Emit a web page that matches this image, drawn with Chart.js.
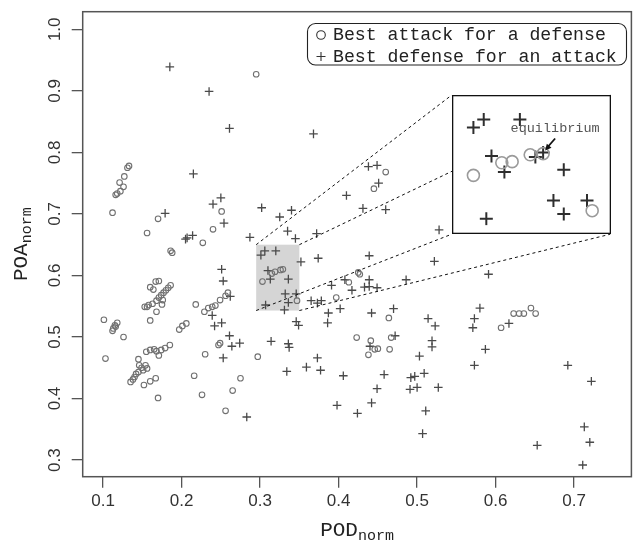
<!DOCTYPE html>
<html>
<head>
<meta charset="utf-8">
<script src="https://cdn.jsdelivr.net/npm/chart.js@4"></script>
<style>
html,body{margin:0;padding:0;background:#fff}
#wrap{position:relative;width:637px;height:545px}
#main{position:absolute;left:0;top:0}
#insetBox{position:absolute}
</style>
</head>
<body>
<div id="wrap">
  <canvas id="main" width="637" height="545"></canvas>
  <div id="insetBox"><canvas id="inset"></canvas></div>
</div>
<script>
// tick labels
const X_TICKS = [0.1, 0.2, 0.3, 0.4, 0.5, 0.6, 0.7];
const Y_TICKS = [0.3, 0.4, 0.5, 0.6, 0.7, 0.8, 0.9, 1.0];

// best attack for a defense (circles)
const attackX = [0.295,0.133,0.131,0.127,0.121,0.126,0.122,0.118,0.116,0.112,0.170,0.251,0.156,0.240,0.227,0.186,0.188,
  0.167,0.171,0.160,0.164,0.186,0.183,0.180,0.177,0.174,0.171,0.168,0.163,0.158,0.153,0.156,0.176,0.175,0.168,0.160,
  0.101,0.113,0.115,0.118,0.112,0.116,0.126,0.103,0.155,0.160,0.165,0.168,0.171,0.174,0.179,0.185,0.145,0.146,0.149,
  0.151,0.145,0.142,0.140,0.138,0.135,0.154,0.156,0.152,0.160,0.167,0.170,0.218,0.197,0.201,0.206,0.229,0.234,0.239,
  0.243,0.249,0.256,0.259,0.247,0.249,0.230,0.216,0.226,0.265,0.275,0.256,0.297,0.347,0.397,0.303,0.315,0.319,0.326,
  0.329,0.460,0.445,0.425,0.427,0.413,0.464,0.423,0.441,0.446,0.450,0.438,0.465,0.467,0.607,0.623,0.630,0.636,0.645,0.651];
const attackY = [0.927,0.778,0.775,0.761,0.751,0.744,0.737,0.733,0.731,0.702,0.692,0.704,0.669,0.675,0.653,0.640,0.637,
  0.590,0.591,0.581,0.577,0.584,0.580,0.576,0.572,0.568,0.564,0.559,0.554,0.552,0.549,0.549,0.560,0.553,0.541,0.527,
  0.528,0.514,0.519,0.523,0.510,0.517,0.500,0.465,0.476,0.479,0.480,0.477,0.470,0.479,0.482,0.487,0.464,0.454,0.450,
  0.446,0.443,0.440,0.435,0.431,0.427,0.454,0.449,0.422,0.428,0.433,0.401,0.553,0.512,0.518,0.522,0.541,0.547,0.549,
  0.551,0.560,0.567,0.572,0.487,0.490,0.472,0.437,0.406,0.413,0.433,0.380,0.468,0.559,0.564,0.590,0.603,0.606,0.609,
  0.610,0.768,0.741,0.605,0.602,0.589,0.531,0.499,0.494,0.480,0.481,0.471,0.480,0.499,0.515,0.538,0.538,0.538,0.547,0.538];

// best defense for an attack (pluses)
const defenseX = [0.185,0.235,0.261,0.368,0.215,0.250,0.240,0.254,0.179,0.205,0.207,0.214,0.287,0.302,0.325,0.340,0.335,
  0.345,0.372,0.410,0.438,0.449,0.451,0.431,0.460,0.528,0.251,0.253,0.262,0.239,0.242,0.251,0.261,0.264,0.274,0.253,
  0.283,0.314,0.336,0.337,0.334,0.359,0.377,0.373,0.406,0.398,0.352,0.374,0.387,0.386,0.402,0.391,0.408,0.346,0.349,
  0.332,0.346,0.336,0.331,0.365,0.373,0.378,0.301,0.306,0.320,0.310,0.313,0.336,0.307,0.439,0.522,0.591,0.439,0.433,
  0.439,0.449,0.417,0.486,0.442,0.470,0.514,0.523,0.440,0.472,0.519,0.519,0.503,0.458,0.449,0.442,0.424,0.492,0.497,
  0.509,0.491,0.500,0.527,0.511,0.507,0.580,0.573,0.571,0.587,0.573,0.617,0.692,0.722,0.713,0.720,0.653,0.711];
const defenseY = [0.939,0.899,0.839,0.830,0.765,0.726,0.716,0.685,0.701,0.659,0.661,0.665,0.662,0.710,0.695,0.706,0.672,
  0.660,0.668,0.730,0.777,0.779,0.750,0.709,0.707,0.674,0.610,0.591,0.566,0.535,0.518,0.523,0.502,0.485,0.490,0.466,
  0.370,0.493,0.489,0.483,0.444,0.451,0.446,0.466,0.437,0.389,0.622,0.628,0.539,0.523,0.546,0.584,0.593,0.525,0.519,
  0.570,0.570,0.556,0.544,0.559,0.555,0.559,0.633,0.640,0.640,0.608,0.594,0.594,0.552,0.632,0.623,0.602,0.593,0.581,
  0.582,0.580,0.576,0.593,0.539,0.546,0.530,0.518,0.485,0.502,0.494,0.484,0.469,0.439,0.416,0.393,0.376,0.434,0.436,
  0.441,0.415,0.418,0.418,0.380,0.343,0.547,0.530,0.515,0.480,0.454,0.522,0.454,0.428,0.354,0.329,0.324,0.292];

// zoomed region (shaded) and the points shown enlarged in the inset
const ZOOM_X = [0.295, 0.35];
const ZOOM_Y = [0.543, 0.65];
const zoomAttackX = [0.311,0.315,0.300,0.322,0.327,0.346];
const zoomAttackY = [0.598,0.599,0.587,0.605,0.606,0.556];
const zoomDefenseX = [0.304,0.300,0.318,0.307,0.312,0.324,0.327,0.335,0.331,0.335,0.344,0.305];
const zoomDefenseY = [0.636,0.629,0.636,0.604,0.590,0.603,0.607,0.592,0.565,0.553,0.565,0.549];
const EQ_INDEX = 6; // equilibrium point in zoomDefense

// where the inset box sits, in main-axis units
const INSET_X = [0.544, 0.746];
const INSET_Y = [0.667, 0.893];

const MONO = '"Liberation Mono", monospace';
const SANS = '"Liberation Sans", Arial, sans-serif';

function pts(xs, ys){ return xs.map((v,i)=>({x:v, y:ys[i]})); }

function subLabel(ctx, main, sub, cx, cy, rotate){
    ctx.save();
    ctx.translate(cx, cy);
    if(rotate) ctx.rotate(-Math.PI/2);
    ctx.font = '21px ' + MONO;
    const w1 = ctx.measureText(main).width;
    ctx.font = '15px ' + MONO;
    const w2 = ctx.measureText(sub).width;
    const x0 = -(w1 + w2)/2;
    ctx.fillStyle = '#222';
    ctx.textBaseline = 'alphabetic';
    ctx.textAlign = 'left';
    ctx.font = '21px ' + MONO;
    ctx.fillText(main, x0, 0);
    ctx.font = '15px ' + MONO;
    ctx.fillText(sub, x0 + w1, 4);
    ctx.restore();
}

const mainDecor = {
    id: 'mainDecor',
    beforeDatasetsDraw(chart){
        const {ctx, scales:{x, y}} = chart;
        const l = x.getPixelForValue(ZOOM_X[0]), r = x.getPixelForValue(ZOOM_X[1]);
        const t = y.getPixelForValue(ZOOM_Y[1]), b = y.getPixelForValue(ZOOM_Y[0]);
        ctx.save();
        ctx.fillStyle = '#d5d5d5';
        ctx.fillRect(l, t, r-l, b-t);
        ctx.restore();
    },
    afterDatasetsDraw(chart){
        const {ctx, chartArea:a, scales:{x, y}} = chart;
        ctx.save();
        // dashed connectors from the shaded box to the inset
        ctx.strokeStyle = '#111';
        ctx.lineWidth = 1;
        ctx.setLineDash([3, 3]);
        [[0,1],[1,1],[0,0],[1,0]].forEach(([i,j])=>{
            ctx.beginPath();
            ctx.moveTo(x.getPixelForValue(ZOOM_X[i]), y.getPixelForValue(ZOOM_Y[j]));
            ctx.lineTo(x.getPixelForValue(INSET_X[i]), y.getPixelForValue(INSET_Y[j]));
            ctx.stroke();
        });
        ctx.setLineDash([]);
        // frame
        ctx.strokeStyle = '#555';
        ctx.lineWidth = 1.5;
        ctx.strokeRect(a.left, a.top, a.right - a.left, a.bottom - a.top);
        // y tick labels, rotated as in R
        ctx.fillStyle = '#333';
        ctx.font = '17px ' + SANS;
        ctx.textAlign = 'center';
        ctx.textBaseline = 'middle';
        y.ticks.forEach(t=>{
            ctx.save();
            ctx.translate(55, y.getPixelForValue(t.value));
            ctx.rotate(-Math.PI/2);
            ctx.fillText(t.value.toFixed(1), 0, 0);
            ctx.restore();
        });
        // legend
        const lx = 307.5, ly = 23.5, lw = 319, lh = 41.5;
        ctx.strokeStyle = '#222';
        ctx.lineWidth = 1.1;
        ctx.beginPath();
        ctx.roundRect(lx, ly, lw, lh, 8);
        ctx.stroke();
        ctx.strokeStyle = '#333';
        ctx.lineWidth = 1.1;
        ctx.beginPath();
        ctx.arc(321, 35, 4.3, 0, Math.PI*2);
        ctx.stroke();
        ctx.beginPath();
        ctx.moveTo(316.5, 56.5); ctx.lineTo(325.5, 56.5);
        ctx.moveTo(321, 52); ctx.lineTo(321, 61);
        ctx.stroke();
        ctx.fillStyle = '#222';
        ctx.font = '18.2px ' + MONO;
        ctx.textAlign = 'left';
        ctx.textBaseline = 'middle';
        ctx.fillText('Best attack for a defense', 333, 35);
        ctx.fillText('Best defense for an attack', 333, 57);
        ctx.restore();
        // axis titles
        subLabel(ctx, 'POD', 'norm', (a.left + a.right)/2, 536, false);
        subLabel(ctx, 'POA', 'norm', 27, (a.top + a.bottom)/2, true);
    }
};

const main = new Chart(document.getElementById('main'), {
    type: 'scatter',
    data: {
        datasets: [
            { label: 'Best attack for a defense', data: pts(attackX, attackY),
              pointStyle: 'circle', pointRadius: 2.8, borderWidth: 1.1,
              borderColor: '#707070', backgroundColor: 'rgba(0,0,0,0)' },
            { label: 'Best defense for an attack', data: pts(defenseX, defenseY),
              pointStyle: 'cross', pointRadius: 4.3, borderWidth: 1.3,
              borderColor: '#4a4a4a', backgroundColor: 'rgba(0,0,0,0)' }
        ]
    },
    options: {
        responsive: false,
        animation: false,
        devicePixelRatio: 1,
        layout: { padding: { left: 0, right: 2, top: 11.7, bottom: 0 } },
        plugins: { legend: { display: false }, tooltip: { enabled: false } },
        scales: {
            x: {
                type: 'linear', min: 0.074, max: 0.773,
                afterBuildTicks: s => { s.ticks = X_TICKS.map(v=>({value:v})); },
                afterFit: s => { s.height = 68.3; },
                grid: { drawOnChartArea: false, drawTicks: true, tickLength: 11, color: '#555', lineWidth: 1.3 },
                border: { display: false },
                ticks: { color: '#333', font: { family: SANS, size: 17 }, padding: 3,
                         maxRotation: 0, autoSkip: false, callback: v => v.toFixed(1) }
            },
            y: {
                type: 'linear', min: 0.273, max: 1.0286,
                afterBuildTicks: s => { s.ticks = Y_TICKS.map(v=>({value:v})); },
                afterFit: s => { s.width = 82.7; },
                grid: { drawOnChartArea: false, drawTicks: true, tickLength: 11, color: '#555', lineWidth: 1.3 },
                border: { display: false },
                ticks: { color: 'rgba(0,0,0,0)', autoSkip: false }
            }
        }
    },
    plugins: [mainDecor]
});

// inset: a second chart laid over the box, scaled to the shaded region
const ix0 = main.scales.x.getPixelForValue(INSET_X[0]);
const ix1 = main.scales.x.getPixelForValue(INSET_X[1]);
const iy0 = main.scales.y.getPixelForValue(INSET_Y[1]);
const iy1 = main.scales.y.getPixelForValue(INSET_Y[0]);
const box = document.getElementById('insetBox');
box.style.left = Math.round(ix0) + 'px';
box.style.top = Math.round(iy0) + 'px';
const insetCanvas = document.getElementById('inset');
insetCanvas.width = Math.round(ix1 - ix0);
insetCanvas.height = Math.round(iy1 - iy0);

const insetDecor = {
    id: 'insetDecor',
    beforeDraw(chart){
        const ctx = chart.ctx;
        ctx.save();
        ctx.fillStyle = '#fff';
        ctx.fillRect(0, 0, chart.width, chart.height);
        ctx.restore();
    },
    afterDraw(chart){
        const {ctx, scales:{x, y}} = chart;
        ctx.save();
        ctx.strokeStyle = '#111';
        ctx.lineWidth = 1.3;
        ctx.strokeRect(0.65, 0.65, chart.width - 1.3, chart.height - 1.3);
        // equilibrium label and arrow
        const px = x.getPixelForValue(zoomDefenseX[EQ_INDEX]);
        const py = y.getPixelForValue(zoomDefenseY[EQ_INDEX]);
        ctx.fillStyle = '#555';
        ctx.font = '13.5px ' + MONO;
        ctx.textAlign = 'center';
        ctx.textBaseline = 'middle';
        ctx.fillText('equilibrium', px + 12, py - 24);
        const tx = px + 2, ty = py - 2, sx = px + 12, sy = py - 14;
        ctx.strokeStyle = '#111';
        ctx.lineWidth = 1.8;
        ctx.beginPath(); ctx.moveTo(sx, sy); ctx.lineTo(tx + 3, ty - 4); ctx.stroke();
        const ang = Math.atan2(ty - sy, tx - sx);
        ctx.fillStyle = '#111';
        ctx.beginPath();
        ctx.moveTo(tx, ty);
        ctx.lineTo(tx - 7*Math.cos(ang - 0.45), ty - 7*Math.sin(ang - 0.45));
        ctx.lineTo(tx - 7*Math.cos(ang + 0.45), ty - 7*Math.sin(ang + 0.45));
        ctx.closePath();
        ctx.fill();
        ctx.restore();
    }
};

new Chart(insetCanvas, {
    type: 'scatter',
    data: {
        datasets: [
            { data: pts(zoomAttackX, zoomAttackY), pointStyle: 'circle', pointRadius: 6,
              borderWidth: 1.6, borderColor: '#9a9a9a', backgroundColor: 'rgba(0,0,0,0)' },
            { data: pts(zoomDefenseX, zoomDefenseY), pointStyle: 'cross', pointRadius: 6.5,
              borderWidth: 2, borderColor: '#2e2e2e', backgroundColor: 'rgba(0,0,0,0)' }
        ]
    },
    options: {
        responsive: false,
        animation: false,
        devicePixelRatio: 1,
        layout: { padding: 0 },
        plugins: { legend: { display: false }, tooltip: { enabled: false } },
        scales: {
            x: { type: 'linear', min: ZOOM_X[0], max: ZOOM_X[1], display: false },
            y: { type: 'linear', min: ZOOM_Y[0], max: ZOOM_Y[1], display: false }
        }
    },
    plugins: [insetDecor]
});
</script>
</body>
</html>
